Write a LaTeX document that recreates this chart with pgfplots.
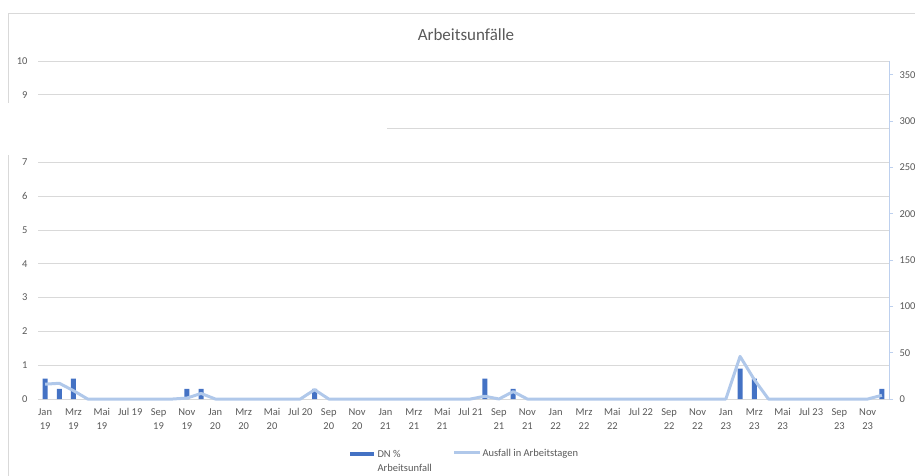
\documentclass[border=0pt]{standalone}
\usepackage{pgfplots}
\pgfplotsset{compat=1.18}
\usepackage{fontspec}
\setmainfont{Carlito}
\definecolor{txt}{HTML}{595959}
\definecolor{grd}{HTML}{D9D9D9}
\definecolor{barc}{HTML}{4472C4}
\definecolor{linec}{HTML}{B0C8EA}
\definecolor{raxis}{HTML}{BDD0EE}
\newcommand{\TL}[2]{\strut #1\\#2}
\begin{document}
\begin{tikzpicture}[x=1pt,y=1pt]
\useasboundingbox (0,0) rectangle (915,475);
\draw[grd, line width=0.8pt] (8,-5) -- (8,462) -- (930,462);
\begin{axis}[
  at={(38pt,76pt)}, anchor=south west, scale only axis,
  width=851pt, height=338pt,
  xmin=-0.5, xmax=59.5, ymin=0, ymax=10,
  ytick={0,1,...,10},
  axis x line*=bottom, axis y line*=left,
  y axis line style={draw=none},
  x axis line style={grd, line width=0.8pt},
  ytick style={draw=none},
  xtick style={draw=none},
  ymajorgrids, major grid style={grd, line width=0.8pt},
  xtick={0,2,...,58},
  xticklabels={{\TL{Jan}{19}},{\TL{Mrz}{19}},{\TL{Mai}{19}},{\strut Jul 19},{\TL{Sep}{19}},{\TL{Nov}{19}},
               {\TL{Jan}{20}},{\TL{Mrz}{20}},{\TL{Mai}{20}},{\strut Jul 20},{\TL{Sep}{20}},{\TL{Nov}{20}},
               {\TL{Jan}{21}},{\TL{Mrz}{21}},{\TL{Mai}{21}},{\strut Jul 21},{\TL{Sep}{21}},{\TL{Nov}{21}},
               {\TL{Jan}{22}},{\TL{Mrz}{22}},{\TL{Mai}{22}},{\strut Jul 22},{\TL{Sep}{22}},{\TL{Nov}{22}},
               {\TL{Jan}{23}},{\TL{Mrz}{23}},{\TL{Mai}{23}},{\strut Jul 23},{\TL{Sep}{23}},{\TL{Nov}{23}}},
  xticklabel style={align=center, text=txt, font=\fontsize{10.5}{14}\selectfont, yshift=1pt},
  yticklabel style={text=txt, font=\fontsize{10.5}{12}\selectfont, xshift=-7pt},
  /pgf/number format/assume math mode=true,
  extra x ticks={-0.5,1.5,...,59.5},
  extra x tick labels={},
  extra x tick style={grid=none, major tick length=4pt, tick align=outside, tick style={draw=grd, line width=0.8pt}},
  ybar, bar width=5pt,
]
\addplot[fill=barc, draw=none] coordinates {
  (0,0.6) (1,0.3) (2,0.6) (10,0.3) (11,0.3) (19,0.3)
  (31,0.6) (33,0.3) (49,0.9) (50,0.6) (59,0.3)
};
\end{axis}
\begin{axis}[
  at={(38pt,76pt)}, anchor=south west, scale only axis,
  width=851pt, height=338pt,
  xmin=-0.5, xmax=59.5, ymin=0, ymax=365,
  axis x line=none, axis y line*=right,
  y axis line style={raxis, line width=0.8pt},
  ytick={0,50,...,350},
  ytick style={raxis, line width=0.8pt},
  tick align=outside, major tick length=4pt,
  yticklabel style={text=txt, font=\fontsize{10.5}{12}\selectfont, xshift=3pt},
  /pgf/number format/assume math mode=true,
  clip=false,
]
\addplot[linec, line width=3pt, line join=round, mark=none] coordinates {
  (0,16) (1,17) (2,9) (3,0) (4,0) (5,0) (6,0) (7,0) (8,0) (9,0)
  (10,1) (11,6) (12,0) (13,0) (14,0) (15,0) (16,0) (17,0) (18,0) (19,10)
  (20,0) (21,0) (22,0) (23,0) (24,0) (25,0) (26,0) (27,0) (28,0) (29,0)
  (30,0) (31,3) (32,0) (33,8) (34,0) (35,0) (36,0) (37,0) (38,0) (39,0)
  (40,0) (41,0) (42,0) (43,0) (44,0) (45,0) (46,0) (47,0) (48,0) (49,46)
  (50,21) (51,0) (52,0) (53,0) (54,0) (55,0) (56,0) (57,0) (58,0) (59,4)
};
\end{axis}
\fill[white] (0,320) rectangle (387,372);
\node[text=txt, font=\fontsize{17}{20}\selectfont] at (466,440) {Arbeitsunfälle};
\fill[barc] (350,19) rectangle (374,23.5);
\node[anchor=west, text=txt, font=\fontsize{10.5}{12}\selectfont] at (374,21.5) {DN \%};
\node[anchor=west, text=txt, font=\fontsize{10.5}{12}\selectfont] at (374,7.5) {Arbeitsunfall};
\draw[linec, line width=3pt] (454,22.5) -- (480,22.5);
\node[anchor=west, text=txt, font=\fontsize{10.5}{12}\selectfont] at (479,21.5) {Ausfall in Arbeitstagen};
\end{tikzpicture}
\end{document}
